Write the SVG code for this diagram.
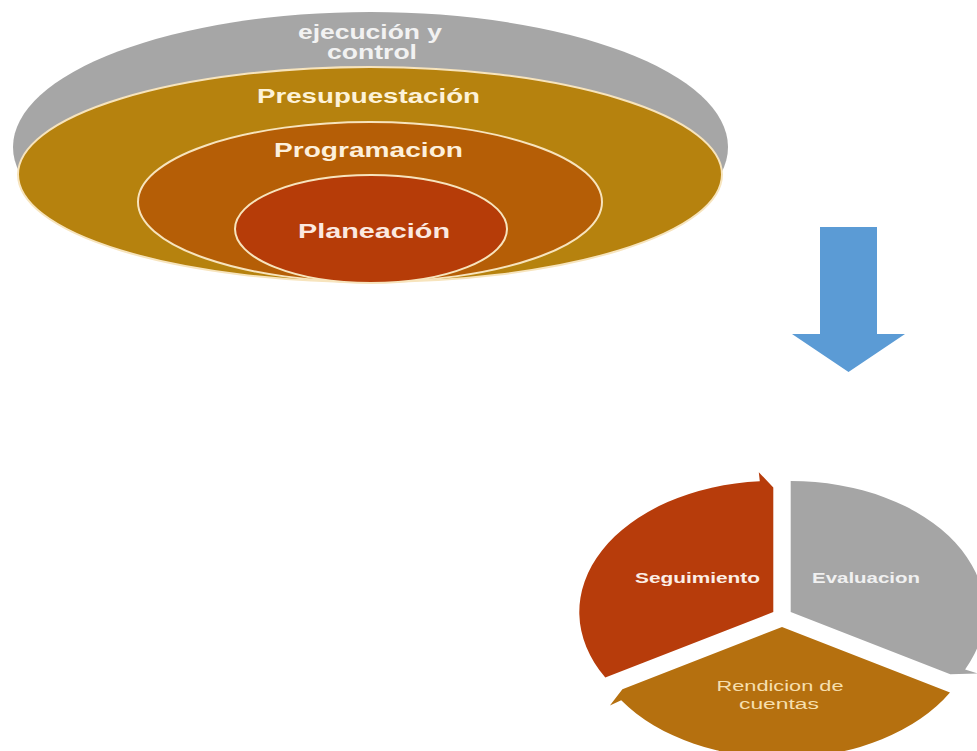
<svg xmlns="http://www.w3.org/2000/svg" width="977" height="751" viewBox="0 0 977 751">
  <style>
    .ring { stroke: #f7e4bd; stroke-width: 2; }
    .t { font-family: "Liberation Sans", Arial, sans-serif; font-weight: bold; font-size: 20px; text-anchor: middle; }
    .c { font-family: "Liberation Sans", Arial, sans-serif; font-size: 14px; text-anchor: middle; }
  </style>
  <rect width="977" height="751" fill="#ffffff"/>

  <g id="ejecucion">
    <ellipse cx="370.5" cy="147" rx="357.5" ry="135" fill="#a6a6a6"/>
    <text class="t" x="370" y="39" font-size="14" fill="#f2f2f2" textLength="144" lengthAdjust="spacingAndGlyphs">ejecución y</text>
    <text class="t" x="372" y="59" font-size="14" fill="#f2f2f2" textLength="90" lengthAdjust="spacingAndGlyphs">control</text>
  </g>
  <g id="presupuestacion">
    <ellipse class="ring" cx="370" cy="174.5" rx="352" ry="107.5" fill="#b6820e"/>
    <text class="t" x="368.5" y="103" fill="#fdf2d8" textLength="223" lengthAdjust="spacingAndGlyphs">Presupuestación</text>
  </g>
  <g id="programacion">
    <ellipse class="ring" cx="370" cy="202" rx="232" ry="80" fill="#b55e06"/>
    <text class="t" x="368.5" y="157" fill="#fdf0dc" textLength="189" lengthAdjust="spacingAndGlyphs">Programacion</text>
  </g>
  <g id="planeacion">
    <ellipse class="ring" cx="371" cy="229" rx="136" ry="54" fill="#b63c08"/>
    <text class="t" x="374" y="238" fill="#fbe9e0" textLength="152" lengthAdjust="spacingAndGlyphs">Planeación</text>
  </g>

  <g id="connectors">
    <path id="flecha" d="M820,227 H877 V334 H905 L848.5,372 L792,334 H820 Z" fill="#5b9bd5"/>
  </g>

  <g id="seguimiento">
    <path d="M773.3,612 L605.3,677.5 A194,131 0 0 1 759.8,481.3 L758.8,472.2 L773.3,487.5 Z" fill="#b73c0b"/>
    <text class="c" x="697.5" y="583" font-weight="bold" font-size="15" fill="#fbeee6" textLength="125" lengthAdjust="spacingAndGlyphs">Seguimiento</text>
  </g>
  <g id="evaluacion">
    <path d="M790.7,612 L790.7,481 A194,131 0 0 1 965.1,669.4 L977.3,673.4 L950.3,674.2 Z" fill="#a5a5a5"/>
    <text class="c" x="866" y="583" font-weight="bold" font-size="15" fill="#f0f0f0" textLength="108" lengthAdjust="spacingAndGlyphs">Evaluacion</text>
  </g>
  <g id="rendicion">
    <path d="M782,627 L950,692.5 A194,131 0 0 1 621.2,700.3 L609.9,705.4 L622.4,689.2 Z" fill="#b5700f"/>
    <text class="c" x="780" y="691" fill="#f6dfae" textLength="127" lengthAdjust="spacingAndGlyphs">Rendicion de</text>
    <text class="c" x="779" y="709" fill="#f6dfae" textLength="80" lengthAdjust="spacingAndGlyphs">cuentas</text>
  </g>
</svg>
